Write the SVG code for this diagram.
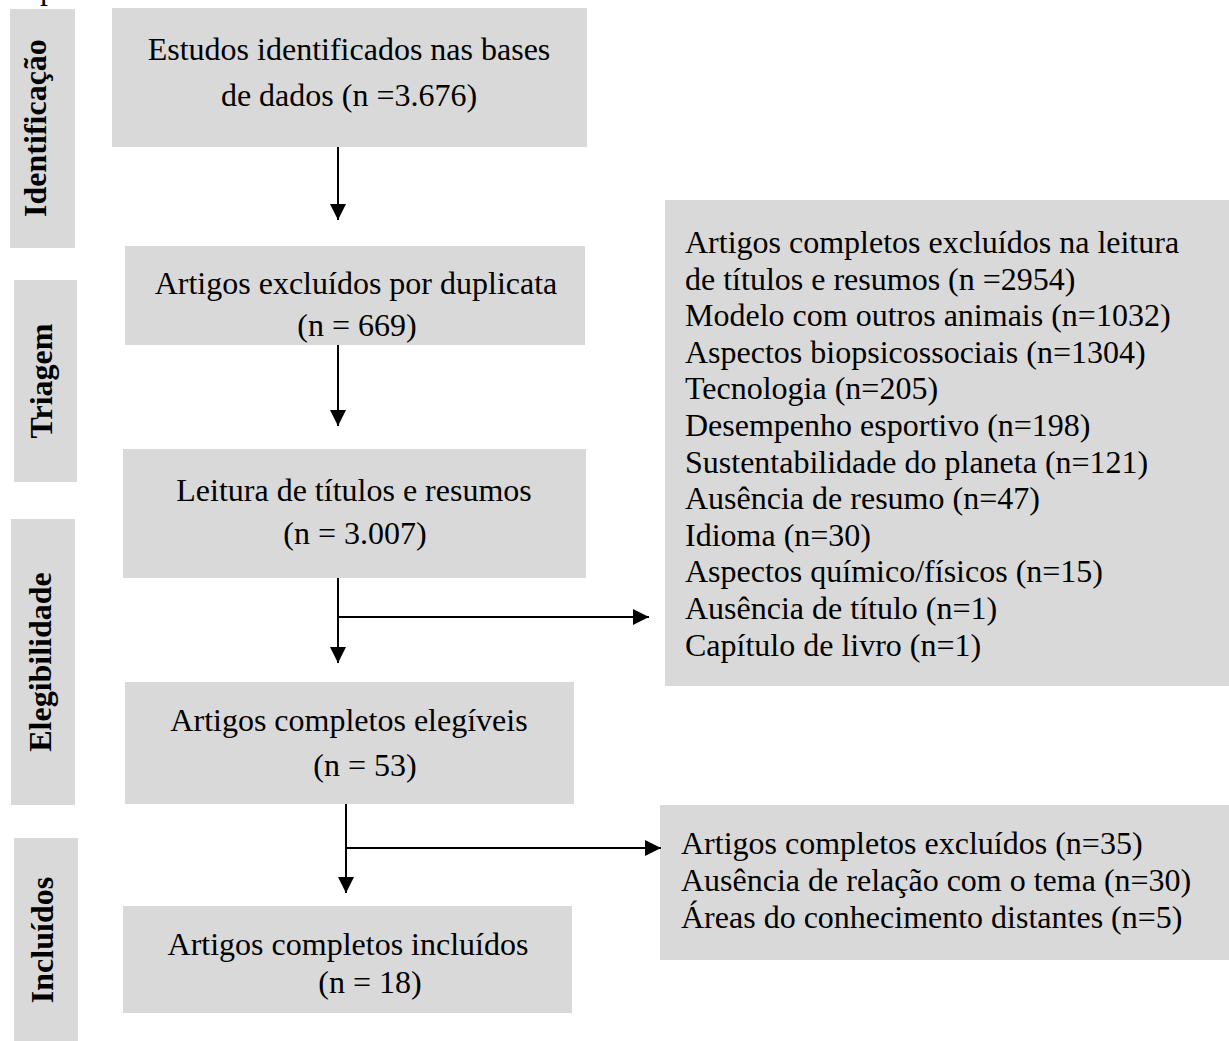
<svg xmlns="http://www.w3.org/2000/svg" width="1229" height="1041" viewBox="0 0 1229 1041">
<style>
.box{fill:#d9d9d9}
.t{font-family:"Liberation Serif","Times New Roman",serif;font-size:32px;fill:#000}
.c{text-anchor:middle}
.side{font-family:"Liberation Serif","Times New Roman",serif;font-size:32px;font-weight:bold;fill:#000;text-anchor:middle}
.ln{stroke:#000;stroke-width:2;fill:none}
</style>
<defs>
<marker id="ah" viewBox="0 0 10 10" refX="10" refY="5" markerWidth="8" markerHeight="8" markerUnits="userSpaceOnUse" orient="auto">
<path d="M0,0 L10,5 L0,10 Z" fill="#000"/>
</marker>
<marker id="arr" viewBox="0 0 16 16" refX="16" refY="8" markerWidth="16" markerHeight="16" markerUnits="userSpaceOnUse" orient="auto">
<path d="M0,0 L16,8 L0,16 Z" fill="#000"/>
</marker>
</defs>
<text class="t" x="40" y="-1">p</text>
<g id="stage-identificacao">
<rect class="box" x="10" y="9" width="65" height="239"/>
<text class="side" transform="translate(46,128) rotate(-90)">Identificação</text>
</g>
<g id="stage-triagem">
<rect class="box" x="14" y="280" width="63" height="202"/>
<text class="side" transform="translate(52,381) rotate(-90)">Triagem</text>
</g>
<g id="stage-elegibilidade">
<rect class="box" x="11" y="519" width="64" height="286"/>
<text class="side" transform="translate(51,662) rotate(-90)">Elegibilidade</text>
</g>
<g id="stage-incluidos">
<rect class="box" x="14" y="838" width="64" height="203"/>
<text class="side" transform="translate(53,940) rotate(-90)">Incluídos</text>
</g>
<g id="n1">
<rect class="box" x="112" y="8" width="475" height="139"/>
<text class="t c" x="349" y="60">Estudos identificados nas bases</text>
<text class="t c" x="349" y="106">de dados (n =3.676)</text>
</g>
<g id="n2">
<rect class="box" x="125" y="246" width="460" height="99"/>
<text class="t c" x="356" y="294">Artigos excluídos por duplicata</text>
<text class="t c" x="357" y="336">(n = 669)</text>
</g>
<g id="n3">
<rect class="box" x="123" y="449" width="463" height="129"/>
<text class="t c" x="354" y="501">Leitura de títulos e resumos</text>
<text class="t c" x="355" y="544">(n = 3.007)</text>
</g>
<g id="n4">
<rect class="box" x="125" y="682" width="449" height="122"/>
<text class="t c" x="349" y="731">Artigos completos elegíveis</text>
<text class="t c" x="365" y="776">(n = 53)</text>
</g>
<g id="n5">
<rect class="box" x="123" y="906" width="449" height="107"/>
<text class="t c" x="348" y="955">Artigos completos incluídos</text>
<text class="t c" x="370" y="993">(n = 18)</text>
</g>
<g id="ex1">
<rect class="box" x="665" y="200" width="564" height="486"/>
<text class="t" x="685" y="253">Artigos completos excluídos na leitura</text>
<text class="t" x="685" y="289.6">de títulos e resumos (n =2954)</text>
<text class="t" x="685" y="326.2">Modelo com outros animais (n=1032)</text>
<text class="t" x="685" y="362.8">Aspectos biopsicossociais (n=1304)</text>
<text class="t" x="685" y="399.4">Tecnologia (n=205)</text>
<text class="t" x="685" y="436">Desempenho esportivo (n=198)</text>
<text class="t" x="685" y="472.6">Sustentabilidade do planeta (n=121)</text>
<text class="t" x="685" y="509.2">Ausência de resumo (n=47)</text>
<text class="t" x="685" y="545.8">Idioma (n=30)</text>
<text class="t" x="685" y="582.4">Aspectos químico/físicos (n=15)</text>
<text class="t" x="685" y="619">Ausência de título (n=1)</text>
<text class="t" x="685" y="655.6">Capítulo de livro (n=1)</text>
</g>
<g id="ex2">
<rect class="box" x="660" y="805" width="569" height="155"/>
<text class="t" x="681" y="854">Artigos completos excluídos (n=35)</text>
<text class="t" x="681" y="891">Ausência de relação com o tema (n=30)</text>
<text class="t" x="681" y="928">Áreas do conhecimento distantes (n=5)</text>
</g>
<g id="connectors">
<line class="ln" x1="338" y1="147" x2="338" y2="220" marker-end="url(#arr)"/>
<line class="ln" x1="338" y1="345" x2="338" y2="426" marker-end="url(#arr)"/>
<line class="ln" x1="338" y1="578" x2="338" y2="663" marker-end="url(#arr)"/>
<line class="ln" x1="337" y1="617" x2="649" y2="617" marker-end="url(#arr)"/>
<line class="ln" x1="346" y1="804" x2="346" y2="893" marker-end="url(#arr)"/>
<line class="ln" x1="345" y1="848" x2="661" y2="848" marker-end="url(#arr)"/>
</g>
</svg>
